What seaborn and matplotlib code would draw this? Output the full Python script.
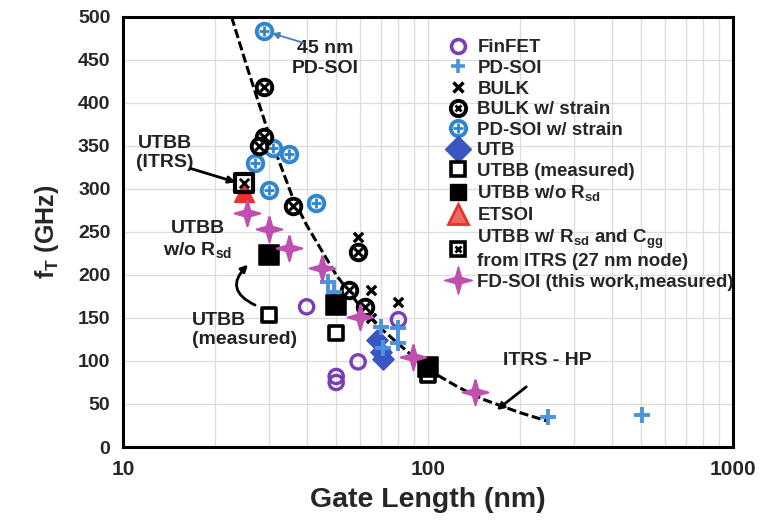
import numpy as np
import pandas as pd
import matplotlib
matplotlib.use('Agg')
import matplotlib.pyplot as plt
from matplotlib.lines import Line2D
import seaborn as sns

# Datos (longitud de puerta en nm, fT en GHz)
finfet_x = [40, 50, 50, 59, 80]
finfet_y = [163, 82, 75, 99, 148]

pdsoi_x = [47, 49, 70, 80, 71, 80, 247, 503]
pdsoi_y = [192, 180, 140, 138, 115, 121, 35, 37]

bulk_x = [59, 65, 80, 65]
bulk_y = [244, 183, 169, 150]

bulk_strain_x = [29, 29, 28, 36, 59, 55, 62]
bulk_strain_y = [419, 360, 350, 280, 227, 183, 163]

pdsoi_strain_x = [29, 31, 35, 27, 30, 43]
pdsoi_strain_y = [484, 348, 341, 330, 299, 284]

utb_x = [68, 70, 71]
utb_y = [124, 110, 102]

utbb_meas_x = [30, 50, 100]
utbb_meas_y = [153, 132, 84]

utbb_norsd_x = [30, 50, 100]
utbb_norsd_y = [223, 165, 93]

etsoi_x = [25]
etsoi_y = [297]

utbb_itrs_x = [25]
utbb_itrs_y = [307]

fdsoi_x = [25.5, 30, 35, 45, 60, 89, 143]
fdsoi_y = [272, 253, 231, 208, 151, 105, 64]

itrs_x = [22.7, 25.5, 30, 36, 40, 50, 60, 70, 80, 100, 125, 150, 200, 247]
itrs_y = [500, 442, 365, 290, 258, 200, 163, 138, 120, 90, 70, 56, 40, 30]

# Colores
c_fin = '#7a3db8'
c_pd = '#4b93dc'
c_pds = '#2f86d0'
c_utb = '#3a56c0'
c_fd = '#c04fb0'
c_red = '#e8322b'

star = [(0, 1), (0.22, 0.22), (1, 0), (0.22, -0.22), (0, -1), (-0.22, -0.22), (-1, 0), (-0.22, 0.22), (0, 1)]

sns.set_style('white')
plt.rcParams['font.family'] = ['Liberation Sans', 'DejaVu Sans']
plt.rcParams['font.weight'] = 'bold'
plt.rcParams['mathtext.fontset'] = 'custom'
plt.rcParams['mathtext.rm'] = 'Liberation Sans:bold'
plt.rcParams['mathtext.it'] = 'Liberation Sans:bold'
plt.rcParams['mathtext.bf'] = 'Liberation Sans:bold'

fig = plt.figure(figsize=(7.62, 5.27), dpi=100)
ax = fig.add_axes([0.1614, 0.1518, 0.8006, 0.816])

ax.set_xscale('log')
ax.set_xlim(10, 1000)
ax.set_ylim(0, 500)
ax.set_yticks(np.arange(0, 501, 50))
ax.grid(True, which='both', axis='x', color='#dcdcdc', lw=0.9)
ax.grid(True, which='major', axis='y', color='#dcdcdc', lw=0.9)
ax.set_axisbelow(True)

# Curva ITRS - HP
sns.lineplot(x=itrs_x, y=itrs_y, ax=ax, color='black', lw=2.2, zorder=2)
ax.lines[-1].set_dashes((3, 1.2))

def pts(x, y, **kw):
    sns.scatterplot(x=x, y=y, ax=ax, legend=False, **kw)

pts(pdsoi_strain_x, pdsoi_strain_y, marker='o', s=125, facecolor='white', edgecolor=c_pds, linewidth=2.8, zorder=3)
pts(pdsoi_strain_x, pdsoi_strain_y, marker='+', s=60, color=c_pds, linewidth=2, zorder=3)
pts(bulk_strain_x, bulk_strain_y, marker='o', s=125, facecolor='white', edgecolor='black', linewidth=2.8, zorder=4)
pts(bulk_strain_x, bulk_strain_y, marker='x', s=35, color='black', linewidth=2.2, zorder=4)
pts(finfet_x, finfet_y, marker='o', s=105, facecolor='none', edgecolor=c_fin, linewidth=2.4, zorder=4)
pts(bulk_x, bulk_y, marker='x', s=45, color='black', linewidth=2.4, zorder=4)
pts(utb_x, utb_y, marker='D', s=120, color=c_utb, edgecolor=c_utb, zorder=4)
pts(pdsoi_x, pdsoi_y, marker='+', s=120, color=c_pd, linewidth=2.8, zorder=5)
pts(utbb_meas_x, utbb_meas_y, marker='s', s=115, facecolor='white', edgecolor='black', linewidth=2.6, zorder=5)
pts(utbb_norsd_x, utbb_norsd_y, marker='s', s=200, color='black', edgecolor='black', zorder=6)
pts(etsoi_x, etsoi_y, marker='^', s=200, color=c_red, edgecolor=c_red, zorder=5)
pts(utbb_itrs_x, utbb_itrs_y, marker='s', s=170, facecolor='none', edgecolor='black', linewidth=3, zorder=6)
pts(utbb_itrs_x, utbb_itrs_y, marker='x', s=45, color='black', linewidth=2, zorder=7)
pts(fdsoi_x, fdsoi_y, marker=star, s=340, color=c_fd, edgecolor=c_fd, zorder=6)

# Ejes
for sp in ax.spines.values():
    sp.set_linewidth(2.2)
    sp.set_color('black')
ax.tick_params(axis='both', which='both', direction='in', width=2, color='black')
ax.tick_params(axis='both', which='major', length=6, pad=9)
ax.tick_params(axis='x', which='major', labelsize=15)
ax.tick_params(axis='y', which='major', labelsize=14)
ax.tick_params(axis='x', which='minor', length=4)
ax.tick_params(axis='x', which='both', top=False)
ax.set_xticks([10, 100, 1000])
ax.set_xticklabels(['10', '100', '1000'])
ax.set_xlabel('Gate Length (nm)', fontsize=20.5, fontweight='bold', labelpad=6)
ax.set_ylabel('f$_{T}$ (GHz)', fontsize=18, fontweight='bold', labelpad=12)

# Anotaciones
txt = dict(fontsize=14, color='#222222', va='center')
ax.text(46, 452, '45 nm\nPD-SOI', ha='center', **txt)
ax.annotate('', xy=(30.8, 481), xytext=(39, 470),
            arrowprops=dict(arrowstyle='-|>', color='#4a7fb5', lw=1.3, shrinkA=0, shrinkB=0))
ax.text(13.7, 342, 'UTBB\n(ITRS)', ha='center', **txt)
ax.annotate('', xy=(23.4, 308), xytext=(16.6, 324),
            arrowprops=dict(arrowstyle='-|>', color='black', lw=2, shrinkA=0, shrinkB=0))
ax.text(17.6, 241, 'UTBB\nw/o R$_{sd}$', ha='center', **txt)
ax.text(16.8, 136, 'UTBB\n(measured)', ha='left', **txt)
ax.annotate('', xy=(25.7, 212), xytext=(27.1, 165),
            arrowprops=dict(arrowstyle='-|>', color='black', lw=2,
                            connectionstyle='arc3,rad=-0.7', shrinkA=0, shrinkB=0))
ax.text(246, 101, 'ITRS - HP', ha='center', **txt)
ax.annotate('', xy=(168, 43), xytext=(210, 70),
            arrowprops=dict(arrowstyle='-|>', color='black', lw=2, shrinkA=0, shrinkB=0))

# Leyenda
h = [
    Line2D([], [], ls='', marker='o', ms=10, mfc='none', mec=c_fin, mew=2.6),
    Line2D([], [], ls='', marker='+', ms=10, color=c_pd, mew=2.6),
    Line2D([], [], ls='', marker='x', ms=7, color='black', mew=2.5),
    (Line2D([], [], ls='', marker='o', ms=11, mfc='white', mec='black', mew=2.8),
     Line2D([], [], ls='', marker='x', ms=5, color='black', mew=2)),
    (Line2D([], [], ls='', marker='o', ms=11, mfc='white', mec=c_pds, mew=2.8),
     Line2D([], [], ls='', marker='+', ms=7, color=c_pds, mew=2)),
    Line2D([], [], ls='', marker='D', ms=13, color=c_utb),
    Line2D([], [], ls='', marker='s', ms=10, mfc='white', mec='black', mew=2.6),
    Line2D([], [], ls='', marker='s', ms=12, color='black'),
    Line2D([], [], ls='', marker='^', ms=14, mfc='#f06a60', mec=c_red, mew=2),
    (Line2D([], [], ls='', marker='s', ms=10, mfc='white', mec='black', mew=2.6),
     Line2D([], [], ls='', marker='x', ms=5, color='black', mew=2)),
    Line2D([], [], ls='', marker=star, ms=20, color=c_fd),
]
labels = ['FinFET', 'PD-SOI', 'BULK', 'BULK w/ strain', 'PD-SOI w/ strain', 'UTB',
          'UTBB (measured)', 'UTBB w/o R$_{sd}$', 'ETSOI',
          'UTBB w/ R$_{sd}$ and C$_{gg}$\nfrom ITRS (27 nm node)',
          'FD-SOI (this work,measured)']
ax.legend(h, labels, loc='upper left', bbox_to_anchor=(0.53, 0.948), frameon=False,
          fontsize=13.5, handlelength=1.2, handletextpad=0.45, labelspacing=0.185,
          borderpad=0, borderaxespad=0)

fig.savefig('out.png', dpi=100)
